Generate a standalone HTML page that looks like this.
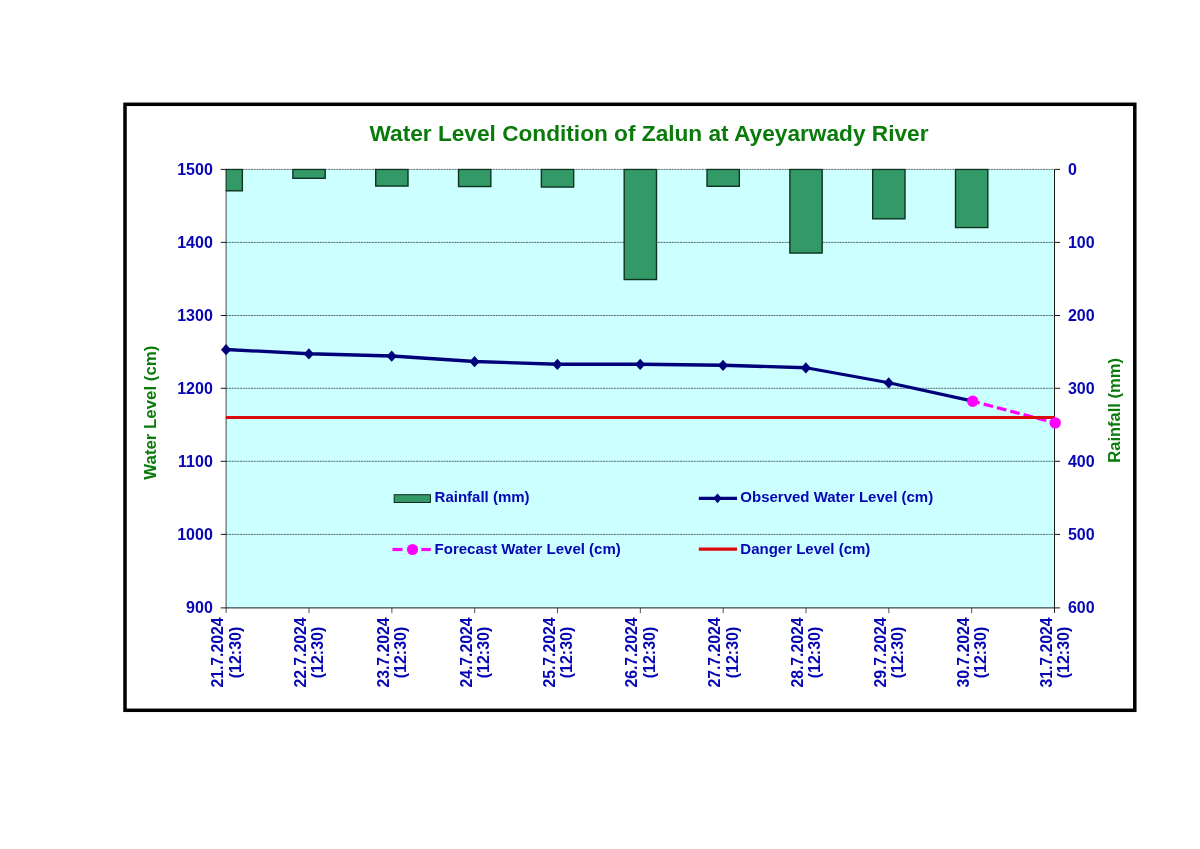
<!DOCTYPE html>
<html lang="en"><head><meta charset="utf-8"><title>Water Level Condition of Zalun at Ayeyarwady River</title>
<style>html,body{margin:0;padding:0;background:#fff}body{width:1200px;height:849px;overflow:hidden}svg{display:block}text{font-family:"Liberation Sans",Arial,sans-serif;font-weight:bold}</style></head><body>
<svg width="1200" height="849" viewBox="0 0 1200 849">
<rect x="0" y="0" width="1200" height="849" fill="#ffffff"/>
<rect x="125" y="104.3" width="1009.8" height="606" fill="#ffffff" stroke="#000000" stroke-width="3.5"/>
<rect x="226.2" y="169.4" width="828.30" height="438.50" fill="#ccffff"/>
<line x1="226.2" y1="169.40" x2="1054.5" y2="169.40" stroke="#000000" stroke-opacity="0.8" stroke-width="0.7" stroke-dasharray="2.1 0.65"/>
<line x1="226.2" y1="242.40" x2="1054.5" y2="242.40" stroke="#000000" stroke-opacity="0.8" stroke-width="0.7" stroke-dasharray="2.1 0.65"/>
<line x1="226.2" y1="315.50" x2="1054.5" y2="315.50" stroke="#000000" stroke-opacity="0.8" stroke-width="0.7" stroke-dasharray="2.1 0.65"/>
<line x1="226.2" y1="388.30" x2="1054.5" y2="388.30" stroke="#000000" stroke-opacity="0.8" stroke-width="0.7" stroke-dasharray="2.1 0.65"/>
<line x1="226.2" y1="461.30" x2="1054.5" y2="461.30" stroke="#000000" stroke-opacity="0.8" stroke-width="0.7" stroke-dasharray="2.1 0.65"/>
<line x1="226.2" y1="534.40" x2="1054.5" y2="534.40" stroke="#000000" stroke-opacity="0.8" stroke-width="0.7" stroke-dasharray="2.1 0.65"/>
<clipPath id="pc"><rect x="225.7" y="168.4" width="829.30" height="440.50"/></clipPath>
<g clip-path="url(#pc)">
<rect x="210.05" y="169.40" width="32.3" height="21.40" fill="#339966" stroke="#0d3321" stroke-width="1.4"/>
<rect x="292.88" y="169.40" width="32.3" height="8.90" fill="#339966" stroke="#0d3321" stroke-width="1.4"/>
<rect x="375.71" y="169.40" width="32.3" height="16.65" fill="#339966" stroke="#0d3321" stroke-width="1.4"/>
<rect x="458.54" y="169.40" width="32.3" height="17.15" fill="#339966" stroke="#0d3321" stroke-width="1.4"/>
<rect x="541.37" y="169.40" width="32.3" height="17.65" fill="#339966" stroke="#0d3321" stroke-width="1.4"/>
<rect x="624.20" y="169.40" width="32.3" height="110.15" fill="#339966" stroke="#0d3321" stroke-width="1.4"/>
<rect x="707.03" y="169.40" width="32.3" height="16.90" fill="#339966" stroke="#0d3321" stroke-width="1.4"/>
<rect x="789.86" y="169.40" width="32.3" height="83.65" fill="#339966" stroke="#0d3321" stroke-width="1.4"/>
<rect x="872.69" y="169.40" width="32.3" height="49.40" fill="#339966" stroke="#0d3321" stroke-width="1.4"/>
<rect x="955.52" y="169.40" width="32.3" height="58.15" fill="#339966" stroke="#0d3321" stroke-width="1.4"/>
</g>
<g stroke="#1a1a1a" stroke-width="1" fill="none">
<line x1="226.1" y1="169.4" x2="226.1" y2="612.9" stroke-opacity="0.8"/>
<line x1="1054.5" y1="169.4" x2="1054.5" y2="612.9"/>
<line x1="220.7" y1="607.9" x2="1060.0" y2="607.9"/>
<line x1="220.7" y1="169.40" x2="226.2" y2="169.40"/>
<line x1="1054.5" y1="169.40" x2="1060.0" y2="169.40"/>
<line x1="220.7" y1="242.40" x2="226.2" y2="242.40"/>
<line x1="1054.5" y1="242.40" x2="1060.0" y2="242.40"/>
<line x1="220.7" y1="315.50" x2="226.2" y2="315.50"/>
<line x1="1054.5" y1="315.50" x2="1060.0" y2="315.50"/>
<line x1="220.7" y1="388.30" x2="226.2" y2="388.30"/>
<line x1="1054.5" y1="388.30" x2="1060.0" y2="388.30"/>
<line x1="220.7" y1="461.30" x2="226.2" y2="461.30"/>
<line x1="1054.5" y1="461.30" x2="1060.0" y2="461.30"/>
<line x1="220.7" y1="534.40" x2="226.2" y2="534.40"/>
<line x1="1054.5" y1="534.40" x2="1060.0" y2="534.40"/>
<line x1="309.03" y1="607.9" x2="309.03" y2="613.1999999999999" stroke-opacity="0.75"/>
<line x1="391.86" y1="607.9" x2="391.86" y2="613.1999999999999" stroke-opacity="0.75"/>
<line x1="474.69" y1="607.9" x2="474.69" y2="613.1999999999999" stroke-opacity="0.75"/>
<line x1="557.52" y1="607.9" x2="557.52" y2="613.1999999999999" stroke-opacity="0.75"/>
<line x1="640.35" y1="607.9" x2="640.35" y2="613.1999999999999" stroke-opacity="0.75"/>
<line x1="723.18" y1="607.9" x2="723.18" y2="613.1999999999999" stroke-opacity="0.75"/>
<line x1="806.01" y1="607.9" x2="806.01" y2="613.1999999999999" stroke-opacity="0.75"/>
<line x1="888.84" y1="607.9" x2="888.84" y2="613.1999999999999" stroke-opacity="0.75"/>
<line x1="971.67" y1="607.9" x2="971.67" y2="613.1999999999999" stroke-opacity="0.75"/>
</g>
<polyline points="226.20,349.50 309.03,353.75 391.86,356.00 474.69,361.50 557.52,364.25 640.35,364.25 723.18,365.25 806.01,367.75 888.84,382.75 972.70,401.20" fill="none" stroke="#00007a" stroke-width="3.3" stroke-linejoin="round"/>
<line x1="972.70" y1="401.2" x2="1055.20" y2="422.9" stroke="#ff00ff" stroke-width="3.2" stroke-dasharray="9.7 4.05" stroke-dashoffset="2.4"/>
<line x1="225.89999999999998" y1="417.5" x2="1055.0" y2="417.5" stroke="#dc0a0a" stroke-width="3.2"/>
<polygon points="220.95,349.65 226.05,344.05 231.15,349.65 226.05,355.25" fill="#00007a"/>
<polygon points="303.78,353.90 308.88,348.30 313.98,353.90 308.88,359.50" fill="#00007a"/>
<polygon points="386.61,356.15 391.71,350.55 396.81,356.15 391.71,361.75" fill="#00007a"/>
<polygon points="469.44,361.65 474.54,356.05 479.64,361.65 474.54,367.25" fill="#00007a"/>
<polygon points="552.27,364.40 557.37,358.80 562.47,364.40 557.37,370.00" fill="#00007a"/>
<polygon points="635.10,364.40 640.20,358.80 645.30,364.40 640.20,370.00" fill="#00007a"/>
<polygon points="717.93,365.40 723.03,359.80 728.13,365.40 723.03,371.00" fill="#00007a"/>
<polygon points="800.76,367.90 805.86,362.30 810.96,367.90 805.86,373.50" fill="#00007a"/>
<polygon points="883.59,382.90 888.69,377.30 893.79,382.90 888.69,388.50" fill="#00007a"/>
<circle cx="972.70" cy="401.2" r="5.7" fill="#ff00ff"/>
<circle cx="1055.20" cy="422.9" r="5.7" fill="#ff00ff"/>
<text id="title" x="649" y="141.4" font-size="22.67" text-anchor="middle" fill="#0a7a0a">Water Level Condition of Zalun at Ayeyarwady River</text>
<text x="212.8" y="174.80" font-size="16" text-anchor="end" fill="#0606b4">1500</text>
<text x="1067.9" y="174.80" font-size="16" fill="#0606b4">0</text>
<text x="212.8" y="247.80" font-size="16" text-anchor="end" fill="#0606b4">1400</text>
<text x="1067.9" y="247.80" font-size="16" fill="#0606b4">100</text>
<text x="212.8" y="320.90" font-size="16" text-anchor="end" fill="#0606b4">1300</text>
<text x="1067.9" y="320.90" font-size="16" fill="#0606b4">200</text>
<text x="212.8" y="393.70" font-size="16" text-anchor="end" fill="#0606b4">1200</text>
<text x="1067.9" y="393.70" font-size="16" fill="#0606b4">300</text>
<text x="212.8" y="466.70" font-size="16" text-anchor="end" fill="#0606b4">1100</text>
<text x="1067.9" y="466.70" font-size="16" fill="#0606b4">400</text>
<text x="212.8" y="539.80" font-size="16" text-anchor="end" fill="#0606b4">1000</text>
<text x="1067.9" y="539.80" font-size="16" fill="#0606b4">500</text>
<text x="212.8" y="613.30" font-size="16" text-anchor="end" fill="#0606b4">900</text>
<text x="1067.9" y="613.30" font-size="16" fill="#0606b4">600</text>
<text transform="translate(156 412.7) rotate(-90)" font-size="16.8" text-anchor="middle" fill="#0a7a0a" textLength="134" lengthAdjust="spacingAndGlyphs">Water Level (cm)</text>
<text transform="translate(1120 410.4) rotate(-90)" font-size="16.8" text-anchor="middle" fill="#0a7a0a" textLength="104.6" lengthAdjust="spacingAndGlyphs">Rainfall (mm)</text>
<g transform="translate(227.10 652.5) rotate(-90)" font-size="16" fill="#0606b4" text-anchor="middle">
<text x="0" y="-3.9" textLength="70.2" lengthAdjust="spacingAndGlyphs">21.7.2024</text>
<text x="0" y="13.5">(12:30)</text></g>
<g transform="translate(309.93 652.5) rotate(-90)" font-size="16" fill="#0606b4" text-anchor="middle">
<text x="0" y="-3.9" textLength="70.2" lengthAdjust="spacingAndGlyphs">22.7.2024</text>
<text x="0" y="13.5">(12:30)</text></g>
<g transform="translate(392.76 652.5) rotate(-90)" font-size="16" fill="#0606b4" text-anchor="middle">
<text x="0" y="-3.9" textLength="70.2" lengthAdjust="spacingAndGlyphs">23.7.2024</text>
<text x="0" y="13.5">(12:30)</text></g>
<g transform="translate(475.59 652.5) rotate(-90)" font-size="16" fill="#0606b4" text-anchor="middle">
<text x="0" y="-3.9" textLength="70.2" lengthAdjust="spacingAndGlyphs">24.7.2024</text>
<text x="0" y="13.5">(12:30)</text></g>
<g transform="translate(558.42 652.5) rotate(-90)" font-size="16" fill="#0606b4" text-anchor="middle">
<text x="0" y="-3.9" textLength="70.2" lengthAdjust="spacingAndGlyphs">25.7.2024</text>
<text x="0" y="13.5">(12:30)</text></g>
<g transform="translate(641.25 652.5) rotate(-90)" font-size="16" fill="#0606b4" text-anchor="middle">
<text x="0" y="-3.9" textLength="70.2" lengthAdjust="spacingAndGlyphs">26.7.2024</text>
<text x="0" y="13.5">(12:30)</text></g>
<g transform="translate(724.08 652.5) rotate(-90)" font-size="16" fill="#0606b4" text-anchor="middle">
<text x="0" y="-3.9" textLength="70.2" lengthAdjust="spacingAndGlyphs">27.7.2024</text>
<text x="0" y="13.5">(12:30)</text></g>
<g transform="translate(806.91 652.5) rotate(-90)" font-size="16" fill="#0606b4" text-anchor="middle">
<text x="0" y="-3.9" textLength="70.2" lengthAdjust="spacingAndGlyphs">28.7.2024</text>
<text x="0" y="13.5">(12:30)</text></g>
<g transform="translate(889.74 652.5) rotate(-90)" font-size="16" fill="#0606b4" text-anchor="middle">
<text x="0" y="-3.9" textLength="70.2" lengthAdjust="spacingAndGlyphs">29.7.2024</text>
<text x="0" y="13.5">(12:30)</text></g>
<g transform="translate(972.57 652.5) rotate(-90)" font-size="16" fill="#0606b4" text-anchor="middle">
<text x="0" y="-3.9" textLength="70.2" lengthAdjust="spacingAndGlyphs">30.7.2024</text>
<text x="0" y="13.5">(12:30)</text></g>
<g transform="translate(1055.40 652.5) rotate(-90)" font-size="16" fill="#0606b4" text-anchor="middle">
<text x="0" y="-3.9" textLength="70.2" lengthAdjust="spacingAndGlyphs">31.7.2024</text>
<text x="0" y="13.5">(12:30)</text></g>
<rect x="394.2" y="494.7" width="36.2" height="7.8" fill="#339966" stroke="#0b2a1a" stroke-width="1"/>
<text x="434.6" y="502.3" font-size="15" fill="#0606b4">Rainfall (mm)</text>
<line x1="698.8" y1="498.3" x2="737" y2="498.3" stroke="#00007a" stroke-width="3.2"/>
<polygon points="713.3,498.3 717.5,493.4 721.7,498.3 717.5,503.2" fill="#00007a"/>
<text x="740.3" y="502.3" font-size="15" fill="#0606b4">Observed Water Level (cm)</text>
<line x1="392.5" y1="549.5" x2="402.5" y2="549.5" stroke="#ff00ff" stroke-width="3.2"/>
<line x1="421.3" y1="549.5" x2="430.8" y2="549.5" stroke="#ff00ff" stroke-width="3.2"/>
<circle cx="412.5" cy="549.5" r="5.6" fill="#ff00ff"/>
<text x="434.6" y="553.7" font-size="15" fill="#0606b4">Forecast Water Level (cm)</text>
<line x1="698.8" y1="549.2" x2="737" y2="549.2" stroke="#dc0a0a" stroke-width="3.2"/>
<text x="740.3" y="553.7" font-size="15" fill="#0606b4">Danger Level (cm)</text>
</svg></body></html>
